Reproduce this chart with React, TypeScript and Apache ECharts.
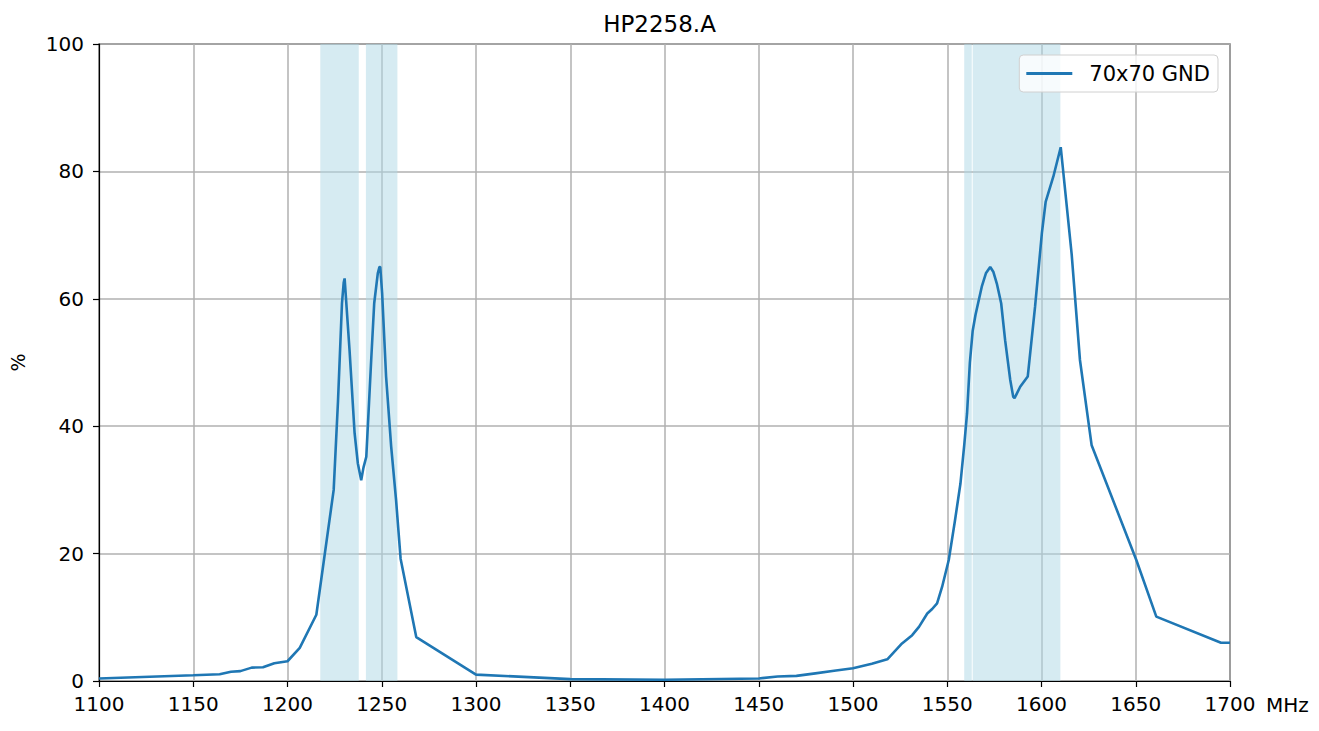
import React, { useEffect, useRef } from "react";
import * as echarts from "echarts";

const TITLE = "HP2258.A";
const SERIES_NAME = "70x70 GND";
const X_TICKS = [1100, 1150, 1200, 1250, 1300, 1350, 1400, 1450, 1500, 1550, 1600, 1650, 1700];
const Y_TICKS = [0, 20, 40, 60, 80, 100];

const freqMHz = [
  1100, 1150, 1164, 1170, 1175, 1181, 1187, 1193, 1200, 1206.5, 1215.3, 1224.5, 1226.8, 1228.9,
  1229.8, 1230.3, 1232.9, 1235.6, 1237.3, 1239.1, 1240.3, 1241.8, 1244.4, 1246, 1247.9, 1248.8,
  1249.2, 1250.2, 1252.3, 1255, 1257.6, 1260, 1268.3, 1300, 1350, 1400, 1450, 1460, 1470, 1480,
  1490, 1500, 1510, 1518.2, 1526, 1531.4, 1535, 1539.4, 1542, 1544.6, 1547.3, 1550.8, 1554, 1557,
  1559, 1560.5, 1562, 1563.5, 1565, 1568.4, 1570.5, 1572.8, 1574.5, 1576.3, 1578.6, 1580.7,
  1583.4, 1585, 1585.7, 1588.7, 1592.7, 1596.6, 1600.2, 1602.2, 1606.3, 1610.2, 1616, 1620.4,
  1626.6, 1650.3, 1660.9, 1695.2, 1700,
];
const efficiency = [
  0.4, 0.9, 1.05, 1.45, 1.55, 2.1, 2.15, 2.8, 3.1, 5.2, 10.4, 30, 44, 59.3,
  62.5, 63.2, 52, 38.9, 34.2, 31.5, 33.5, 35.2, 50.4, 59.3, 64, 65.0,
  65.0, 60.9, 47.8, 36.8, 28.4, 19.2, 6.9, 1.0, 0.3, 0.2, 0.4, 0.7, 0.8, 1.2,
  1.6, 2.0, 2.7, 3.4, 5.9, 7.2, 8.5, 10.6, 11.3, 12.2, 14.8, 19, 25, 31,
  37, 42, 50, 55, 57.5, 62, 64, 65, 64.2, 62.4, 59.3, 53.5,
  47.3, 44.6, 44.4, 46.2, 47.8, 58.8, 70.3, 75.2, 79.2, 83.8, 67, 50.4,
  37, 19, 10.1, 6.0, 6.0,
];

// shaded frequency bands [start, end] in MHz
const bands: [number, number][] = [
  [1217.4, 1237.8],
  [1241.6, 1258.3],
  [1559, 1563],
  [1563.5, 1610],
];

const FONT = "DejaVu Sans";

export default function App() {
  const ref = useRef<HTMLDivElement>(null);
  useEffect(() => {
    document.body.style.margin = "0";
    if (!ref.current) return;
    const chart = echarts.init(ref.current, null, { renderer: "svg" });
    const data = freqMHz.map((f, i) => [f, efficiency[i]]);
    chart.setOption({
      animation: false,
      backgroundColor: "#ffffff",
      textStyle: { fontFamily: FONT },
      title: {
        text: TITLE,
        left: "center",
        top: 7,
        textStyle: { fontFamily: FONT, fontSize: 23, fontWeight: "normal", color: "#000" },
      },
      legend: {
        data: [SERIES_NAME],
        right: 101,
        top: 55,
        padding: [8, 8, 8, 7],
        itemWidth: 46,
        itemHeight: 3,
        itemGap: 10,
        icon: "rect",
        borderColor: "#d0d0d0",
        borderWidth: 1,
        borderRadius: 4,
        backgroundColor: "rgba(255,255,255,0.8)",
        textStyle: { fontFamily: FONT, fontSize: 21, color: "#000", padding: [0, 0, 0, 12] },
      },
      grid: {
        left: 93,
        right: 89,
        top: 44,
        bottom: 50,
        show: true,
        borderColor: "#000",
        borderWidth: 1.2,
        containLabel: false,
      },
      xAxis: {
        type: "value",
        min: X_TICKS[0],
        max: X_TICKS[X_TICKS.length - 1],
        interval: 50,
        name: "MHz",
        nameLocation: "end",
        nameGap: 36,
        nameTextStyle: {
          fontFamily: FONT,
          fontSize: 20,
          color: "#000",
          verticalAlign: "top",
          padding: [14, 0, 0, 0],
        },
        axisLine: { show: true, lineStyle: { color: "#000", width: 1.2 } },
        axisTick: { show: true, inside: false, length: 6, lineStyle: { color: "#000", width: 1.2 } },
        axisLabel: {
          fontFamily: FONT,
          fontSize: 20,
          color: "#000",
          margin: 13,
          formatter: (v: number) => String(v),
        },
        splitLine: { show: true, lineStyle: { color: "#b0b0b0", width: 1.5 } },
      },
      yAxis: {
        type: "value",
        min: Y_TICKS[0],
        max: Y_TICKS[Y_TICKS.length - 1],
        interval: 20,
        name: "%",
        nameLocation: "middle",
        nameGap: 72,
        nameRotate: 90,
        nameTextStyle: { fontFamily: FONT, fontSize: 19, color: "#000" },
        axisLine: { show: true, lineStyle: { color: "#000", width: 1.2 } },
        axisTick: { show: true, inside: false, length: 6, lineStyle: { color: "#000", width: 1.2 } },
        axisLabel: {
          fontFamily: FONT,
          fontSize: 20,
          color: "#000",
          margin: 15,
          formatter: (v: number) => String(v),
        },
        splitLine: { show: true, lineStyle: { color: "#b0b0b0", width: 1.5 } },
      },
      series: [
        {
          name: SERIES_NAME,
          type: "line",
          data,
          showSymbol: false,
          symbol: "none",
          smooth: false,
          lineStyle: { color: "#1f77b4", width: 2.6 },
          itemStyle: { color: "#1f77b4" },
          z: 5,
          markArea: {
            silent: true,
            itemStyle: { color: "#add8e6", opacity: 0.5 },
            data: bands.map(([a, b]) => [{ xAxis: a }, { xAxis: b }]),
          },
        },
      ],
    });
    return () => chart.dispose();
  }, []);
  return <div ref={ref} style={{ width: 1319, height: 731 }} />;
}
